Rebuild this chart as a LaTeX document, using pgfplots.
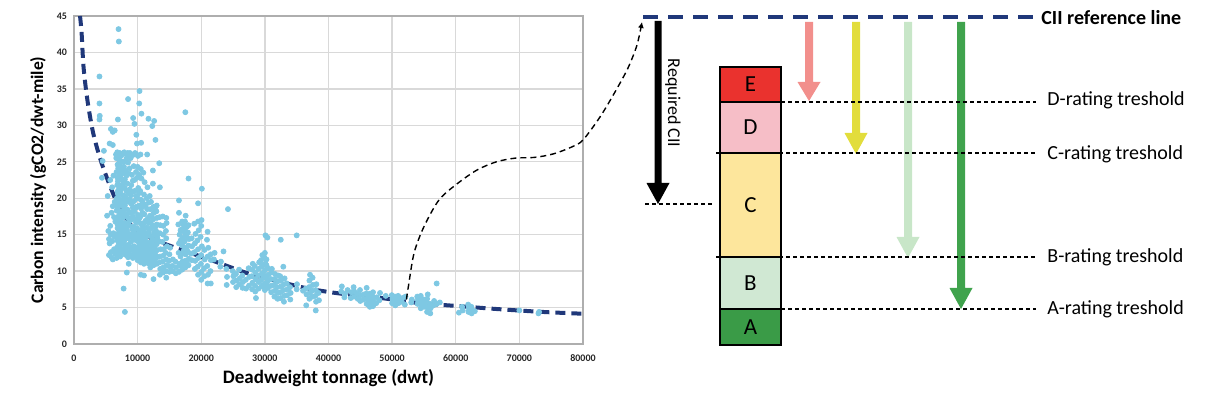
\documentclass[border=0pt]{standalone}
\usepackage{fontspec}
\setmainfont{Carlito}
\usepackage{pgfplots}
\pgfplotsset{compat=1.18}
\usetikzlibrary{arrows.meta}
\definecolor{navy}{RGB}{32,56,122}
\definecolor{dotc}{RGB}{126,200,227}
\definecolor{gridc}{RGB}{217,217,217}
\definecolor{cE}{RGB}{234,50,46}
\definecolor{cD}{RGB}{246,190,199}
\definecolor{cC}{RGB}{253,230,156}
\definecolor{cB}{RGB}{208,232,211}
\definecolor{cA}{RGB}{58,155,71}
\definecolor{aPink}{RGB}{242,143,140}
\definecolor{aYel}{RGB}{226,221,60}
\definecolor{aLgr}{RGB}{200,230,200}
\definecolor{aGrn}{RGB}{64,163,77}
\begin{document}
\begin{tikzpicture}
\begin{axis}[
  at={(0,0)}, anchor=south west, scale only axis,
  width=254.5pt, height=164pt,
  xmin=0, xmax=80000, ymin=0, ymax=45,
  xtick={0,10000,...,80000}, ytick={0,5,...,45},
  scaled x ticks=false,
  /pgf/number format/.cd, fixed, 1000 sep={}, assume math mode=true, /pgfplots/.cd,
  grid=major, grid style={draw=gridc, line width=0.7pt},
  axis line style={draw=gridc!80!black, line width=0.7pt},
  major tick length=0pt,
  tick label style={font=\fontsize{5}{6}\selectfont\bfseries, text=black!85},
  xticklabel style={yshift=-2pt},
  xlabel={Deadweight tonnage (dwt)},
  ylabel={Carbon intensity (gCO2/dwt-mile)},
  xlabel style={font=\fontsize{9.5}{11}\selectfont\bfseries, at={(axis description cs:0.5,-0.104)}, anchor=center},
  ylabel style={font=\fontsize{8.8}{10}\selectfont\bfseries, at={(axis description cs:-0.0707,0.5)}, anchor=center},
]
\addplot[only marks, mark=*, mark size=1.25pt, color=dotc, mark options={draw=none, fill=dotc}] coordinates {
(7000,43.2)(7050,41.5)(4000,36.7)(4000,33.0)(4050,31.3)(4000,30.8)(5800,29.5)(6100,29.1)(6900,30.8)(8500,33.6)(10300,34.7)(10250,33.0)(10600,31.6)(11700,30.9)(12600,30.6)(12300,29.9)(17500,31.8)(4700,26.5)(4500,25.1)(6100,27.3)(4400,22.8)(7800,7.6)(8000,4.4)(8600,11.0)(8300,9.8)(10500,9.5)(11000,9.4)(12500,8.9)(18000,22.7)(20100,21.3)(24200,18.5)(19500,19.3)(16500,19.7)(35000,14.9)(30100,14.9)(32500,14.3)(57000,8.3)(9800,28.7)(12800,28.0)(13400,24.8)(12400,23.8)(9500,30.2)(9300,31.0)(9900,27.5)(6400,29.3)(5600,27.5)
(5200,17.6)(5400,15.5)(5500,14.4)(5600,13.8)(5700,16.2)(5800,12.6)(5900,18.0)(6000,14.1)(6100,11.6)(6200,15.2)(6300,13.0)(6400,19.5)(6500,16.8)(5500,12.2)(5300,20.3)(6000,21.5)(6200,23.1)(5700,22.5)(5900,11.9)(6300,17.4)(6100,18.9)(5800,15.0)(6450,12.4)(6350,14.7)
(6700,11.8)(6750,13.2)(6650,14.8)(6800,16.5)(6700,18.3)(6750,20.0)(6800,21.8)(6700,23.6)(6650,25.5)
(7000,12.2)(7050,12.8)(6950,13.5)(7000,14.0)(7100,14.6)(6900,15.1)(7000,15.7)(7050,16.3)(6950,16.9)(7000,17.5)(7100,18.1)(6900,18.7)(7000,19.3)(7050,19.9)(6950,20.5)(7000,21.1)(7100,21.7)(6900,22.3)(7000,22.9)(7050,23.5)(6950,24.1)(7000,24.7)(7100,25.3)(6900,26.0)
(7400,12.5)(7350,13.9)(7450,15.3)(7400,16.8)(7300,18.2)(7450,19.7)(7400,21.2)(7350,22.6)(7450,24.2)(7400,25.8)
(7700,13.0)(7750,14.4)(7650,15.9)(7700,17.3)(7750,18.9)(7650,20.4)(7700,22.0)(7750,23.4)(7650,25.0)
(8000,12.3)(8050,13.1)(7950,14.2)(8000,15.4)(8100,16.6)(7900,17.8)(8000,19.0)(8050,20.2)(7950,21.4)(8000,22.6)(8100,23.8)(7900,25.0)(8000,26.1)
(8500,11.9)(8450,12.7)(8550,13.6)(8500,14.5)(8400,15.5)(8600,16.4)(8500,17.3)(8450,18.4)(8550,19.5)(8500,20.7)(8400,22.0)(8600,23.4)(8500,24.9)(8450,26.2)
(9000,12.1)(9050,13.0)(8950,14.0)(9000,15.0)(9100,16.0)(8900,17.0)(9000,18.0)(9050,19.2)(8950,20.4)(9000,21.8)(9100,23.2)(8900,25.5)(9000,26.0)
(9500,12.5)(9450,13.4)(9550,14.3)(9500,15.2)(9400,16.1)(9600,17.1)(9500,18.2)(9450,19.6)(9550,21.0)(9500,22.5)(9400,24.4)(9600,26.2)
(6600,26.0)(7200,26.2)(7600,26.1)(7900,26.3)(8300,26.0)(8800,26.2)(9200,25.9)(9700,26.1)(6800,26.3)(8600,25.9)
(6850,12.6)(6850,14.2)(6850,15.9)(6850,17.2)(6850,19.0)(6850,20.9)(6850,22.8)(6850,24.6)
(7250,12.0)(7250,13.3)(7250,14.9)(7250,16.0)(7250,17.6)(7250,19.1)(7250,20.7)(7250,23.0)(7250,24.8)
(7550,12.9)(7550,14.7)(7550,16.4)(7550,17.9)(7550,19.3)(7550,21.5)(7550,23.9)
(7850,12.5)(7850,13.7)(7850,15.1)(7850,16.2)(7850,18.4)(7850,19.9)(7850,22.1)(7850,24.3)
(8250,12.2)(8250,13.5)(8250,14.9)(8250,16.0)(8250,17.7)(8250,19.6)(8250,21.0)(8250,23.1)(8250,25.4)
(8750,12.4)(8750,13.3)(8750,15.0)(8750,16.9)(8750,18.0)(8750,19.9)(8750,21.2)(8750,24.1)
(9250,11.8)(9250,12.9)(9250,14.6)(9250,15.6)(9250,17.5)(9250,18.7)(9250,20.9)(9250,22.4)
(9750,12.0)(9750,13.0)(9750,14.7)(9750,15.8)(9750,16.7)(9750,18.8)(9750,20.3)(9750,23.6)
(10000,11.5)(10050,12.3)(9950,13.2)(10000,14.1)(10100,15.0)(9900,15.9)(10000,16.8)(10050,17.7)(9950,18.8)(10000,20.0)(10100,21.4)(9900,22.8)(10000,24.3)(10050,25.8)
(10250,11.7)(10250,12.6)(10250,13.5)(10250,14.4)(10250,15.5)(10250,17.2)(10250,19.0)(10250,20.7)(10250,23.2)
(10500,11.2)(10450,12.0)(10550,12.9)(10500,13.8)(10400,14.7)(10600,15.6)(10500,16.5)(10450,17.5)(10550,18.6)(10500,19.8)(10400,21.0)(10600,22.7)(10500,24.0)(10450,26.0)(10550,27.6)
(10750,11.5)(10750,12.4)(10750,13.3)(10750,14.2)(10750,15.1)(10750,16.1)(10750,18.0)(10750,19.6)
(11000,11.0)(11050,11.9)(10950,12.8)(11000,13.7)(11100,14.6)(10900,15.5)(11000,16.6)(11050,17.8)(10950,19.2)(11000,20.5)(11100,22.2)(10900,23.5)
(11250,11.3)(11250,12.2)(11250,13.2)(11250,14.1)(11250,15.2)(11250,16.9)(11250,18.9)
(11500,11.4)(11450,12.5)(11550,13.6)(11500,14.8)(11400,16.0)(11600,17.2)(11500,18.5)(11450,20.0)(11550,21.5)(11500,26.0)
(11750,11.0)(11750,11.9)(11750,12.9)(11750,13.9)(11750,15.4)(11750,16.6)(11750,19.4)
(12000,10.5)(12050,11.3)(11950,12.2)(12000,13.1)(12100,14.0)(11900,14.9)(12000,15.8)(12050,16.7)(11950,17.6)(12000,18.5)(12100,19.5)(11900,20.3)
(12250,10.9)(12250,11.8)(12250,12.7)(12250,13.6)(12250,14.6)(12250,16.0)(12250,17.4)
(12500,10.8)(12450,11.7)(12550,12.6)(12500,13.5)(12400,14.4)(12600,15.3)(12500,16.2)(12450,17.1)(12550,18.0)(12500,18.8)(12400,22.0)
(12750,11.3)(12750,12.3)(12750,13.1)(12750,14.2)(12750,15.0)(12750,16.0)(12750,18.5)
(13000,11.0)(13050,11.9)(12950,12.8)(13000,13.7)(13100,14.6)(12900,15.5)(13000,16.4)(13050,17.3)(12950,18.2)(13000,19.0)
(13500,9.5)(13550,10.3)(13450,11.2)(13500,12.0)(13600,13.0)(13400,14.1)(13500,15.2)(13550,16.3)(13450,17.4)(13500,21.5)
(14000,9.8)(14050,10.5)(13950,11.3)(14000,12.1)(14100,13.0)(13900,14.0)(14000,15.0)(14050,16.2)(13950,17.5)
(14500,9.1)(14450,10.0)(14550,10.8)(14500,11.6)(14400,12.5)(14600,13.4)(14500,14.5)(14450,15.5)(14550,16.6)(14500,17.3)
(15000,9.9)(15050,10.6)(14950,11.4)(15000,12.3)(15100,13.2)
(15500,10.0)(15450,10.7)(15550,11.6)
(16000,9.7)(16050,10.5)(15950,11.3)
(16500,9.9)(16550,11.0)(16450,12.5)(16500,13.8)(16600,15.0)(16400,16.4)(16500,18.0)
(16750,10.7)(16750,12.0)(16750,14.2)(16750,15.6)
(17000,10.2)(17050,11.3)(16950,12.4)(17000,13.5)(17100,14.6)(16900,15.7)(17000,16.8)
(17250,11.0)(17250,12.8)(17250,14.0)(17250,15.4)(17250,16.3)
(17500,10.5)(17450,11.4)(17550,12.3)(17500,13.2)(17400,14.1)(17600,15.0)(17500,15.9)(17450,16.8)(17550,17.6)
(17750,11.1)(17750,12.9)(17750,14.7)(17750,16.1)
(18000,10.8)(18050,11.7)(17950,12.6)(18000,13.5)(18100,14.4)(17900,15.3)(18000,16.3)
(18500,11.5)(18450,12.4)(18550,13.4)(18500,14.5)
(19000,10.3)(19050,11.4)(18950,12.6)(19000,13.8)(19100,15.1)(18900,16.5)
(19500,9.5)(19450,10.6)(19550,11.8)(19500,13.0)(19400,14.2)(19600,15.6)(19500,16.8)
(20000,8.8)(20050,9.9)(19950,11.0)(20000,12.2)(20100,13.4)(19900,14.7)(20000,16.2)(20050,17.0)
(20500,9.3)(20450,10.4)(20550,11.6)(20500,12.9)
(21000,8.3)(21050,9.5)(20950,10.7)(21000,12.0)(21100,13.2)(20900,14.3)(21000,15.4)
(21500,8.3)(21450,10.0)(21550,11.5)(21500,12.3)
(22000,11.6)(22100,12.5)(23000,10.6)(23100,11.3)(23500,12.7)(24000,8.1)(24050,9.2)(23950,10.3)
(25000,8.5)(25050,9.3)(24950,10.0)(25500,7.8)(25550,8.7)(25450,9.6)(26000,8.2)(26050,9.0)(25950,10.2)(26500,7.7)(26550,8.5)(26450,9.4)(27000,8.8)(27050,7.6)(27500,8.0)(27550,9.2)(27450,10.4)
(28000,7.5)(28050,8.4)(27950,9.3)(28000,10.2)(28100,11.0)
(28500,7.2)(28450,8.0)(28550,8.9)(28500,9.8)(28400,10.7)(28600,6.3)
(29000,7.6)(29050,8.5)(28950,9.4)(29000,10.3)(29100,11.2)
(29500,7.9)(29450,8.8)(29550,9.7)(29500,10.6)(29400,11.5)(29600,12.2)
(29750,8.1)(29750,9.5)(29750,10.9)
(30000,7.4)(30050,8.3)(29950,9.2)(30000,10.1)(30100,11.0)(29900,11.9)(30000,12.5)
(30250,8.0)(30250,9.0)(30250,10.8)(30250,11.6)
(30500,7.7)(30450,8.6)(30550,9.5)(30500,10.4)(30400,14.6)
(31000,7.1)(31050,8.0)(30950,8.9)(31000,9.8)(31100,10.3)
(31500,6.5)(31550,7.3)(31450,8.1)(31500,8.9)(31600,9.6)
(32000,6.2)(32050,7.0)(31950,7.8)(32000,8.6)(32100,9.4)
(32500,6.3)(32450,7.1)(32550,7.9)(32500,8.7)(32400,9.3)
(33000,5.8)(33050,6.6)(32950,7.4)(33000,8.2)(33100,9.0)(32900,10.6)
(33500,6.7)(33550,7.5)(33450,8.3)(34000,6.1)(34050,7.0)(33950,7.8)(35000,7.5)(35050,8.2)
(36000,7.3)(36500,5.3)(36550,6.8)(36450,7.6)(37000,6.2)(37050,7.0)(36950,7.8)(37000,8.7)(37100,9.5)(37500,6.5)(37450,7.3)(37550,8.1)(37500,9.1)(38000,4.6)(38050,5.8)(37950,6.6)(38000,7.4)(38100,8.2)(38500,6.0)(38450,7.0)
(42000,7.2)(42100,7.9)(42500,6.4)(42600,6.9)(43000,7.4)(43500,6.3)(43600,7.1)(44000,6.5)(44050,7.2)(43950,7.8)(44500,6.9)(44600,6.2)(45000,5.9)(45050,6.7)(44950,7.4)(45500,6.1)(45600,6.8)(46000,5.5)(46050,6.2)(45950,6.9)(46000,7.7)(46250,5.4)(46250,6.0)(46250,6.6)(46500,5.1)(46550,5.7)(46450,6.3)(46500,6.9)(46750,5.5)(46750,6.1)(47000,5.2)(47050,5.9)(46950,6.5)(47000,7.1)(47500,5.6)(47600,6.4)(48000,6.0)(48100,7.0)(49000,6.6)
(50000,5.6)(50050,6.2)(49950,6.7)(50500,5.3)(50550,5.9)(50450,6.5)(51000,5.6)(51050,6.1)(50950,6.6)(51500,5.8)(51600,6.3)(52000,5.4)(52100,6.5)(53000,5.7)(53100,6.1)(54000,5.5)(54050,6.0)(53950,6.5)(54500,4.9)(54550,5.4)(54450,5.9)(54500,6.6)(55000,5.1)(55050,5.6)(54950,6.1)(55500,4.4)(55550,5.0)(55450,5.7)(55500,6.2)(55600,6.8)(56000,4.2)(56050,4.9)(55950,5.5)(56500,5.3)(56600,5.9)(57000,5.5)(57500,5.7)
(60500,4.3)(61000,5.1)(61100,4.6)(62000,4.4)(62050,4.9)(61950,5.4)(62500,4.2)(62550,4.7)(62450,5.1)(63000,4.5)(70000,4.6)(73000,4.2)(73100,4.4)
};
\addplot[smooth, color=navy, line width=2pt, dash pattern=on 5pt off 3pt] coordinates {
(950,45)(1200,42.6)(1500,38)(2100,33.5)(3000,29)(4200,25.2)(5700,21.6)(7500,18)(9900,15.6)(13500,14.0)(18300,12.5)(21900,11.4)(27300,9.7)(32100,8.6)(36300,7.7)(41100,7.0)(48300,6.3)(54400,5.6)(60400,5.2)(66400,4.8)(73600,4.4)(80000,4.15)
};
\end{axis}
\begin{axis}[
  at={(-37pt,-23.5pt)}, anchor=south west, scale only axis,
  width=606pt, height=195.5pt,
  xmin=0, xmax=1212, ymin=0, ymax=391, y dir=reverse,
  hide axis, clip=false,
]
\path (axis cs:0,0) rectangle (axis cs:1212,391);
% annotation curve from fit line to reference line
\addplot[smooth, color=black, line width=0.7pt, dash pattern=on 3pt off 2pt, -{Latex[length=3pt,width=3pt]}] coordinates {
(406.4,299.5)(408.4,286.4)(414.1,252.9)(424,226.6)(439.2,199.7)(458.3,182.9)(477.4,169.8)(496.5,161.8)(515.5,158.1)(534.6,157.4)(553.7,153.8)(572.8,146.5)(583,140)(600,117)(615,92)(628,68)(637,45)(642,22)
};
% CII reference line
\draw[navy, line width=2pt, dash pattern=on 7.5pt off 5pt] (axis cs:643,17) -- (axis cs:1033,17);
\node[anchor=west, font=\fontsize{10}{12}\selectfont\bfseries, inner sep=0pt] at (axis cs:1041,18) {CII reference line};
% arrows
\fill[black] (axis cs:654.5,21) -- (axis cs:661.5,21) -- (axis cs:661.5,183) -- (axis cs:669.5,183) -- (axis cs:658,204) -- (axis cs:646.5,183) -- (axis cs:654.5,183) -- cycle;
\fill[aPink] (axis cs:805,22) -- (axis cs:813,22) -- (axis cs:813,82) -- (axis cs:820.5,82) -- (axis cs:809,101) -- (axis cs:797.5,82) -- (axis cs:805,82) -- cycle;
\fill[aYel] (axis cs:852,22) -- (axis cs:860,22) -- (axis cs:860,133) -- (axis cs:867.5,133) -- (axis cs:856,154) -- (axis cs:844.5,133) -- (axis cs:852,133) -- cycle;
\fill[aLgr] (axis cs:904,22) -- (axis cs:912,22) -- (axis cs:912,237) -- (axis cs:919.5,237) -- (axis cs:908,258) -- (axis cs:896.5,237) -- (axis cs:904,237) -- cycle;
\fill[aGrn] (axis cs:957,22) -- (axis cs:965,22) -- (axis cs:965,288) -- (axis cs:972.5,288) -- (axis cs:961,309) -- (axis cs:949.5,288) -- (axis cs:957,288) -- cycle;
\node[rotate=-90, font=\fontsize{9}{10}\selectfont, inner sep=0pt] at (axis cs:673,103) {Required CII};
% threshold lines
\draw[black, line width=0.6pt, dash pattern=on 2pt off 1.5pt] (axis cs:645,204) -- (axis cs:713,204);
\draw[black, line width=0.6pt, dash pattern=on 2pt off 1.5pt] (axis cs:781,102) -- (axis cs:1036,102);
\draw[black, line width=0.6pt, dash pattern=on 2pt off 1.5pt] (axis cs:716,153) -- (axis cs:1036,153);
\draw[black, line width=0.6pt, dash pattern=on 2pt off 1.5pt] (axis cs:716,257) -- (axis cs:1036,257);
\draw[black, line width=0.6pt, dash pattern=on 2pt off 1.5pt] (axis cs:781,309) -- (axis cs:1036,309);
\node[anchor=west, font=\fontsize{10}{12}\selectfont, inner sep=0pt] at (axis cs:1047,100) {D-rating treshold};
\node[anchor=west, font=\fontsize{10}{12}\selectfont, inner sep=0pt] at (axis cs:1047,154) {C-rating treshold};
\node[anchor=west, font=\fontsize{10}{12}\selectfont, inner sep=0pt] at (axis cs:1047,257) {B-rating treshold};
\node[anchor=west, font=\fontsize{10}{12}\selectfont, inner sep=0pt] at (axis cs:1047,309) {A-rating treshold};
% rating box
\filldraw[fill=cE, draw=black, line width=0.7pt] (axis cs:720,67) rectangle (axis cs:781,102);
\filldraw[fill=cD, draw=black, line width=0.7pt] (axis cs:720,102) rectangle (axis cs:781,153);
\filldraw[fill=cC, draw=black, line width=0.7pt] (axis cs:720,153) rectangle (axis cs:781,257);
\filldraw[fill=cB, draw=black, line width=0.7pt] (axis cs:720,257) rectangle (axis cs:781,309);
\filldraw[fill=cA, draw=black, line width=0.7pt] (axis cs:720,309) rectangle (axis cs:781,345);
\node[font=\fontsize{11.5}{13}\selectfont] at (axis cs:750.5,84.5) {E};
\node[font=\fontsize{11.5}{13}\selectfont] at (axis cs:750.5,127.5) {D};
\node[font=\fontsize{11.5}{13}\selectfont] at (axis cs:750.5,205) {C};
\node[font=\fontsize{11.5}{13}\selectfont] at (axis cs:750.5,283) {B};
\node[font=\fontsize{11.5}{13}\selectfont] at (axis cs:750.5,327) {A};
\end{axis}
\end{tikzpicture}
\end{document}
